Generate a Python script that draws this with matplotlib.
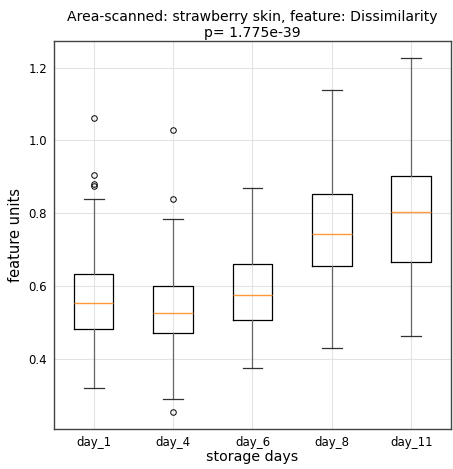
import numpy as np
import matplotlib as mpl

mpl.use("Agg")

import matplotlib.pyplot as plt

# ================================
# 数据
# ================================
days = ["day_1", "day_4", "day_6", "day_8", "day_11"]
whisker_low = [0.318, 0.289, 0.373, 0.429, 0.463]
q1 = [0.482, 0.470, 0.507, 0.656, 0.667]
median = [0.552, 0.525, 0.576, 0.743, 0.802]
q3 = [0.632, 0.600, 0.660, 0.852, 0.903]
whisker_high = [0.840, 0.784, 0.869, 1.139, 1.227]
outliers = [
    [1.063, 0.905, 0.880, 0.876],
    [1.030, 0.839, 0.252],
    [],
    [],
    [],
]
p_value = "1.775e-39"

# ================================
# 绘图
# ================================
fig = plt.figure(figsize=(4.53, 4.69), dpi=100)
ax = fig.add_axes([0.119, 0.0853, 0.8766, 0.8273])

stats = []
for i, name in enumerate(days):
    stats.append({
        "label": name,
        "whislo": whisker_low[i], "q1": q1[i], "med": median[i],
        "q3": q3[i], "whishi": whisker_high[i], "fliers": outliers[i],
    })

ax.bxp(
    stats, positions=np.arange(1, len(days) + 1), widths=0.5,
    boxprops=dict(color="black", lw=0.9),
    whiskerprops=dict(color="#666666", lw=0.9),
    capprops=dict(color="#333333", lw=0.9),
    medianprops=dict(color="#ff9a3c", lw=1.0),
    flierprops=dict(marker="o", markersize=4, markerfacecolor="none",
                    markeredgecolor="black", markeredgewidth=0.7),
)

ax.set_ylim(0.2065, 1.2735)
ax.set_yticks([0.4, 0.6, 0.8, 1.0, 1.2])
ax.grid(True, color="#e3e3e3", lw=0.8)
ax.set_axisbelow(True)

for s in ax.spines.values():
    s.set_color("#444444")
    s.set_linewidth(1.0)

ax.tick_params(axis="both", labelsize=8.5, length=0, pad=5)
ax.set_xlabel("storage days", fontsize=10.2, labelpad=1)
ax.set_ylabel("feature units", fontsize=10.5)
ax.set_title(
    "Area-scanned: strawberry skin, feature: Dissimilarity\np= " + p_value,
    fontsize=10.1, pad=3, linespacing=1.15,
)

plt.savefig("out.png", dpi=100)
plt.close()
